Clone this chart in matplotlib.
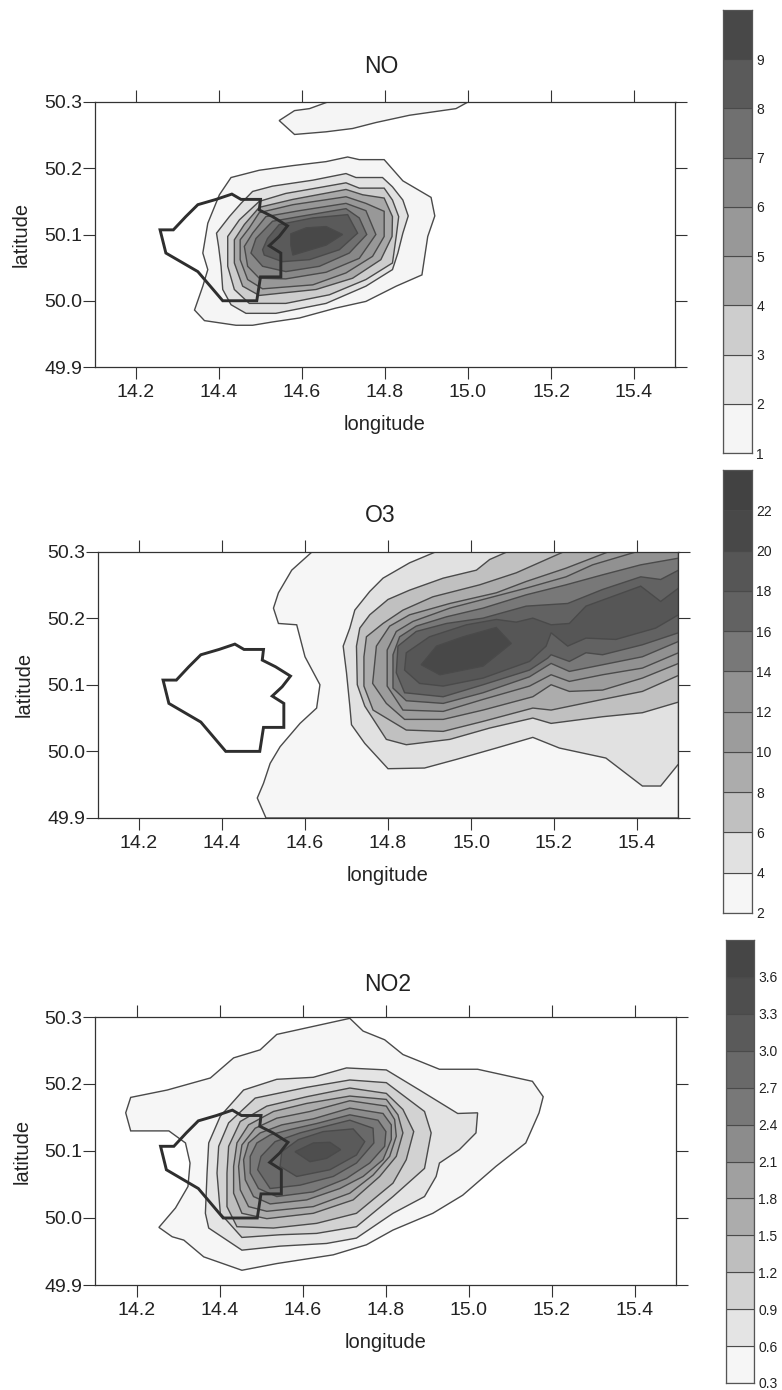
import matplotlib
matplotlib.use("Agg")
import matplotlib.pyplot as plt

plt.rcParams['font.family'] = ['Liberation Sans', 'DejaVu Sans']

# --- city outline, same in every panel (lon, lat) ---
city = [(14.258, 50.107), (14.290, 50.107), (14.320, 50.127), (14.349, 50.145), (14.393, 50.153),
        (14.431, 50.161), (14.453, 50.153), (14.500, 50.153), (14.497, 50.137), (14.529, 50.127),
        (14.565, 50.113), (14.545, 50.097), (14.521, 50.083), (14.549, 50.072), (14.549, 50.036),
        (14.500, 50.036), (14.491, 50.000), (14.409, 50.000), (14.349, 50.044), (14.272, 50.072)]

# --- NO contours, outer to inner (lon, lat) ---
no_blob = [(14.545, 50.272), (14.582, 50.287), (14.618, 50.290), (14.662, 50.300), (15.000, 50.300),
           (14.971, 50.290), (14.859, 50.280), (14.778, 50.269), (14.722, 50.260), (14.658, 50.255),
           (14.582, 50.251)]
no_contours = [
    [(14.429, 50.186), (14.497, 50.197), (14.578, 50.204), (14.658, 50.210), (14.710, 50.217), (14.738, 50.213),
     (14.798, 50.213), (14.843, 50.181), (14.911, 50.156), (14.920, 50.128), (14.903, 50.097), (14.889, 50.039),
     (14.827, 50.022), (14.754, 49.999), (14.682, 49.989), (14.594, 49.974), (14.529, 49.968), (14.481, 49.963),
     (14.441, 49.963), (14.365, 49.970), (14.341, 49.986), (14.361, 50.022), (14.373, 50.047), (14.361, 50.072),
     (14.373, 50.117), (14.401, 50.160)],
    [(14.481, 50.165), (14.529, 50.173), (14.626, 50.182), (14.706, 50.192), (14.730, 50.186), (14.794, 50.186),
     (14.818, 50.172), (14.843, 50.152), (14.856, 50.128), (14.843, 50.102), (14.831, 50.072), (14.818, 50.047),
     (14.754, 50.022), (14.658, 49.996), (14.537, 49.981), (14.465, 49.981), (14.429, 49.994), (14.409, 50.017),
     (14.405, 50.052), (14.399, 50.082), (14.394, 50.102), (14.425, 50.127), (14.453, 50.147)],
    [(14.497, 50.150), (14.561, 50.162), (14.634, 50.170), (14.706, 50.178), (14.738, 50.170), (14.798, 50.170),
     (14.818, 50.152), (14.833, 50.127), (14.827, 50.097), (14.818, 50.057), (14.754, 50.032), (14.666, 50.009),
     (14.561, 49.996), (14.473, 49.996), (14.437, 50.017), (14.421, 50.052), (14.421, 50.097), (14.449, 50.122)],
    [(14.497, 50.141), (14.578, 50.153), (14.706, 50.168), (14.746, 50.160), (14.798, 50.155), (14.818, 50.127),
     (14.817, 50.097), (14.790, 50.062), (14.722, 50.034), (14.634, 50.017), (14.497, 50.008), (14.457, 50.022),
     (14.437, 50.057), (14.437, 50.092), (14.461, 50.115)],
    [(14.497, 50.133), (14.578, 50.145), (14.706, 50.157), (14.754, 50.147), (14.798, 50.135), (14.798, 50.097),
     (14.770, 50.067), (14.706, 50.042), (14.626, 50.024), (14.505, 50.018), (14.469, 50.032), (14.451, 50.062),
     (14.451, 50.092), (14.473, 50.110)],
    [(14.513, 50.127), (14.594, 50.136), (14.706, 50.147), (14.754, 50.136), (14.778, 50.100), (14.738, 50.064),
     (14.658, 50.043), (14.561, 50.033), (14.497, 50.034), (14.469, 50.052), (14.461, 50.082), (14.481, 50.102)],
    [(14.529, 50.120), (14.602, 50.128), (14.706, 50.139), (14.738, 50.125), (14.756, 50.100), (14.714, 50.072),
     (14.642, 50.052), (14.561, 50.044), (14.505, 50.052), (14.477, 50.072), (14.489, 50.094)],
    [(14.545, 50.115), (14.626, 50.125), (14.710, 50.130), (14.734, 50.102), (14.690, 50.077), (14.618, 50.062),
     (14.553, 50.059), (14.509, 50.069), (14.505, 50.077), (14.517, 50.094)],
    [(14.573, 50.101), (14.610, 50.110), (14.658, 50.112), (14.698, 50.100), (14.658, 50.084), (14.578, 50.069),
     (14.573, 50.084)],
]

# --- O3 contours, outer to inner (lon, lat) ---
o3_contours = [
    [(14.618, 50.300), (14.568, 50.272), (14.536, 50.238), (14.524, 50.215), (14.536, 50.192), (14.580, 50.190),
     (14.600, 50.142), (14.636, 50.100), (14.628, 50.065), (14.588, 50.042), (14.540, 50.007), (14.516, 49.982),
     (14.500, 49.952), (14.485, 49.930), (14.506, 49.900), (15.500, 49.900), (15.500, 50.300)],
    [(14.917, 50.300), (14.852, 50.283), (14.788, 50.260), (14.756, 50.240), (14.720, 50.212), (14.708, 50.185),
     (14.692, 50.158), (14.700, 50.118), (14.708, 50.068), (14.712, 50.040), (14.744, 50.012), (14.800, 49.974),
     (14.888, 49.975), (14.965, 49.988), (15.061, 50.005), (15.149, 50.021), (15.213, 50.005), (15.325, 49.990),
     (15.413, 49.948), (15.457, 49.948), (15.500, 49.981), (15.500, 50.300)],
    [(15.089, 50.300), (15.045, 50.288), (15.013, 50.272), (14.933, 50.260), (14.852, 50.242), (14.800, 50.228),
     (14.756, 50.205), (14.732, 50.185), (14.724, 50.158), (14.726, 50.100), (14.744, 50.068), (14.796, 50.018),
     (14.844, 50.010), (14.949, 50.018), (15.045, 50.035), (15.149, 50.050), (15.193, 50.042), (15.317, 50.052),
     (15.413, 50.058), (15.500, 50.074), (15.500, 50.300)],
    [(15.225, 50.300), (15.109, 50.268), (15.021, 50.250), (14.908, 50.232), (14.836, 50.212), (14.788, 50.192),
     (14.748, 50.172), (14.742, 50.142), (14.742, 50.098), (14.764, 50.062), (14.844, 50.032), (14.933, 50.030),
     (15.029, 50.045), (15.149, 50.065), (15.193, 50.062), (15.317, 50.078), (15.413, 50.090), (15.500, 50.114),
     (15.500, 50.300)],
    [(15.333, 50.300), (15.229, 50.275), (15.133, 50.255), (15.061, 50.238), (14.949, 50.222), (14.852, 50.205),
     (14.804, 50.188), (14.772, 50.158), (14.763, 50.102), (14.796, 50.072), (14.840, 50.048), (14.933, 50.048),
     (15.029, 50.062), (15.149, 50.082), (15.193, 50.100), (15.237, 50.090), (15.317, 50.092), (15.413, 50.110),
     (15.500, 50.132), (15.500, 50.300)],
    [(15.401, 50.300), (15.293, 50.280), (15.229, 50.262), (15.133, 50.245), (15.029, 50.228), (14.949, 50.215),
     (14.860, 50.195), (14.820, 50.180), (14.798, 50.152), (14.798, 50.098), (14.836, 50.062), (14.933, 50.060),
     (15.029, 50.078), (15.141, 50.098), (15.193, 50.115), (15.237, 50.105), (15.317, 50.115), (15.413, 50.125),
     (15.500, 50.148), (15.500, 50.300)],
    [(15.500, 50.290), (15.409, 50.280), (15.317, 50.265), (15.229, 50.250), (15.133, 50.235), (15.029, 50.215),
     (14.941, 50.202), (14.868, 50.188), (14.828, 50.172), (14.812, 50.145), (14.812, 50.095), (14.844, 50.076),
     (14.933, 50.072), (15.029, 50.088), (15.141, 50.112), (15.193, 50.132), (15.237, 50.120), (15.317, 50.130),
     (15.413, 50.142), (15.500, 50.165)],
    [(15.500, 50.272), (15.457, 50.258), (15.409, 50.262), (15.317, 50.243), (15.233, 50.222), (15.133, 50.218),
     (15.029, 50.200), (14.941, 50.192), (14.868, 50.180), (14.824, 50.158), (14.820, 50.118), (14.840, 50.088),
     (14.933, 50.082), (15.029, 50.100), (15.141, 50.122), (15.185, 50.140), (15.193, 50.145), (15.237, 50.135),
     (15.277, 50.148), (15.317, 50.145), (15.413, 50.160), (15.500, 50.178)],
    [(15.500, 50.245), (15.457, 50.225), (15.409, 50.248), (15.277, 50.218), (15.237, 50.192), (15.193, 50.190),
     (15.149, 50.200), (15.109, 50.194), (15.061, 50.198), (14.989, 50.190), (14.900, 50.172), (14.844, 50.148),
     (14.840, 50.122), (14.876, 50.102), (14.933, 50.098), (15.029, 50.110), (15.141, 50.135), (15.181, 50.158),
     (15.193, 50.178), (15.233, 50.158), (15.277, 50.170), (15.349, 50.168), (15.445, 50.185), (15.500, 50.205)],
    [(14.880, 50.130), (14.917, 50.158), (14.981, 50.172), (15.061, 50.186), (15.097, 50.162), (15.029, 50.128),
     (14.925, 50.115)],
]

# --- NO2 contours, outer to inner (lon, lat) ---
no2_contours = [
    [(14.714, 50.298), (14.746, 50.279), (14.798, 50.266), (14.842, 50.244), (14.930, 50.222), (15.022, 50.222),
     (15.154, 50.204), (15.180, 50.181), (15.170, 50.157), (15.138, 50.112), (15.066, 50.077), (14.986, 50.034),
     (14.914, 50.007), (14.818, 49.982), (14.754, 49.960), (14.674, 49.945), (14.538, 49.932), (14.454, 49.922),
     (14.362, 49.942), (14.314, 49.967), (14.286, 49.972), (14.254, 49.986), (14.294, 50.015), (14.324, 50.047),
     (14.329, 50.082), (14.318, 50.112), (14.278, 50.130), (14.186, 50.130), (14.174, 50.157), (14.186, 50.180),
     (14.274, 50.191), (14.378, 50.209), (14.434, 50.239), (14.498, 50.251), (14.538, 50.274), (14.626, 50.286)],
    [(14.706, 50.224), (14.802, 50.221), (14.882, 50.191), (14.974, 50.156), (15.022, 50.157), (15.018, 50.127),
     (14.978, 50.102), (14.930, 50.082), (14.922, 50.062), (14.894, 50.032), (14.818, 50.007), (14.730, 49.970),
     (14.658, 49.962), (14.546, 49.958), (14.454, 49.952), (14.374, 49.985), (14.366, 50.007), (14.370, 50.067),
     (14.374, 50.112), (14.402, 50.152), (14.458, 50.191), (14.538, 50.207), (14.626, 50.210)],
    [(14.714, 50.206), (14.802, 50.202), (14.894, 50.159), (14.910, 50.127), (14.894, 50.074), (14.818, 50.032),
     (14.730, 49.987), (14.634, 49.977), (14.546, 49.975), (14.454, 49.971), (14.402, 50.007), (14.394, 50.067),
     (14.398, 50.107), (14.422, 50.142), (14.486, 50.179), (14.610, 50.195)],
    [(14.714, 50.194), (14.802, 50.186), (14.842, 50.162), (14.868, 50.129), (14.850, 50.087), (14.818, 50.052),
     (14.730, 50.007), (14.634, 49.992), (14.530, 49.985), (14.442, 49.987), (14.418, 50.017), (14.418, 50.067),
     (14.422, 50.107), (14.450, 50.144), (14.514, 50.167), (14.610, 50.181)],
    [(14.714, 50.182), (14.802, 50.177), (14.830, 50.154), (14.842, 50.127), (14.826, 50.092), (14.786, 50.062),
     (14.722, 50.027), (14.626, 50.007), (14.514, 49.999), (14.454, 50.007), (14.434, 50.037), (14.434, 50.077),
     (14.442, 50.112), (14.470, 50.139), (14.530, 50.159), (14.610, 50.171)],
    [(14.714, 50.175), (14.802, 50.167), (14.822, 50.147), (14.826, 50.122), (14.810, 50.092), (14.770, 50.064),
     (14.714, 50.037), (14.626, 50.017), (14.514, 50.010), (14.470, 50.017), (14.450, 50.042), (14.446, 50.077),
     (14.454, 50.109), (14.486, 50.134), (14.538, 50.149), (14.618, 50.159)],
    [(14.714, 50.164), (14.794, 50.156), (14.814, 50.139), (14.814, 50.117), (14.794, 50.087), (14.746, 50.062),
     (14.690, 50.044), (14.610, 50.027), (14.522, 50.021), (14.482, 50.032), (14.462, 50.057), (14.458, 50.087),
     (14.470, 50.112), (14.498, 50.127), (14.550, 50.139), (14.626, 50.148)],
    [(14.714, 50.154), (14.782, 50.146), (14.801, 50.129), (14.798, 50.107), (14.762, 50.082), (14.706, 50.059),
     (14.626, 50.039), (14.538, 50.032), (14.494, 50.044), (14.474, 50.067), (14.474, 50.092), (14.490, 50.112),
     (14.522, 50.124), (14.570, 50.132), (14.634, 50.141)],
    [(14.714, 50.146), (14.770, 50.134), (14.772, 50.112), (14.730, 50.082), (14.674, 50.062), (14.594, 50.049),
     (14.522, 50.044), (14.492, 50.072), (14.500, 50.092), (14.534, 50.114), (14.594, 50.127), (14.650, 50.136)],
    [(14.722, 50.133), (14.750, 50.114), (14.730, 50.094), (14.666, 50.072), (14.586, 50.062), (14.546, 50.077),
     (14.550, 50.099), (14.590, 50.117), (14.650, 50.129)],
    [(14.582, 50.099), (14.626, 50.112), (14.666, 50.113), (14.692, 50.102), (14.658, 50.089), (14.618, 50.084)],
]

# --- colour bar levels and their grey bands ---
no_levels = [1, 2, 3, 4, 5, 6, 7, 8, 9, 10]
o3_levels = [2, 4, 6, 8, 10, 12, 14, 16, 18, 20, 22, 24]
no2_levels = [0.3, 0.6, 0.9, 1.2, 1.5, 1.8, 2.1, 2.4, 2.7, 3.0, 3.3, 3.6, 3.9]
no_greys = [245, 226, 205, 168, 152, 136, 112, 90, 72]
o3_greys = [246, 225, 192, 172, 156, 145, 120, 98, 86, 72, 66]
no2_greys = [246, 228, 210, 190, 172, 160, 140, 120, 105, 90, 78, 70]

W, H = 782, 1390
xticks = [14.2, 14.4, 14.6, 14.8, 15.0, 15.2, 15.4]
yticks = [49.9, 50.0, 50.1, 50.2, 50.3]
line_col = '#4a4a4a'


def grey(v):
    return (v / 255, v / 255, v / 255)


def px_axes(left, top, right, bottom):
    # make an axes from pixel edges
    return plt.gcf().add_axes([left / W, 1 - bottom / H, (right - left) / W, (bottom - top) / H])


def panel(box, title, title_x, title_pad, contours, greys, extra=None):
    ax = px_axes(*box)
    for i, c in enumerate(contours):
        ax.fill(*zip(*c), facecolor=grey(greys[i]), edgecolor=line_col, linewidth=1.0, zorder=2 + i)
    if extra is not None:
        ax.fill(*zip(*extra), facecolor=grey(greys[0]), edgecolor=line_col, linewidth=1.0, zorder=2)
    ax.fill(*zip(*city), facecolor='none', edgecolor='#2e2e2e', linewidth=2.1, zorder=50)
    ax.set_xlim(14.1, 15.5)
    ax.set_ylim(49.9, 50.3)
    ax.set_xticks(xticks)
    ax.set_yticks(yticks)
    ax.set_xticklabels([f"{t:.1f}" for t in xticks])
    ax.set_yticklabels([f"{t:.1f}" for t in yticks])
    ax.tick_params(direction='out', length=8.5, width=0.8, color='#333333', top=True, right=True,
                   labelsize=14, labelcolor='#222222')
    ax.tick_params(axis='x', pad=3.5)
    ax.tick_params(axis='y', pad=0.5)
    for s in ax.spines.values():
        s.set_linewidth(0.9)
        s.set_color('#333333')
        s.set_zorder(60)
    ax.set_xlabel("longitude", fontsize=14.5, color='#222222', labelpad=10.5)
    ax.set_ylabel("latitude", fontsize=14.5, color='#222222', labelpad=9.5)
    ax.set_title(title, fontsize=16.5, color='#222222', x=title_x, pad=title_pad)
    return ax


def colorbar(box, levels, greys, labels):
    ax = px_axes(*box)
    for i, g in enumerate(greys):
        ax.bar(0, levels[i + 1] - levels[i], bottom=levels[i], width=1, color=grey(g),
               edgecolor=line_col, linewidth=0.8)
    ax.set_xlim(-0.5, 0.5)
    ax.set_ylim(levels[0], levels[-1])
    ax.set_xticks([])
    ax.yaxis.tick_right()
    ax.set_yticks(levels[:-1])
    ax.set_yticklabels(labels)
    ax.tick_params(axis='y', length=0, labelsize=10, labelcolor='#222222', pad=3)
    for s in ax.spines.values():
        s.set_linewidth(0.9)
        s.set_color('#555555')


fig = plt.figure(figsize=(W / 100, H / 100), dpi=100)

panel((94.5, 102, 675.5, 367), "NO", 0.493, 21, no_contours, no_greys, extra=no_blob)
panel((97.5, 551.5, 678.5, 818), "O3", 0.487, 21, o3_contours, o3_greys)
panel((95, 1017, 676, 1285), "NO2", 0.503, 19, no2_contours, no2_greys)

colorbar((723, 10, 752, 453), no_levels, no_greys, [str(v) for v in no_levels[:-1]])
colorbar((723, 470, 752, 913), o3_levels, o3_greys, [str(v) for v in o3_levels[:-1]])
colorbar((726, 940, 754, 1383), no2_levels, no2_greys, [f"{v:.1f}" for v in no2_levels[:-1]])

fig.savefig("out.png", dpi=100)
